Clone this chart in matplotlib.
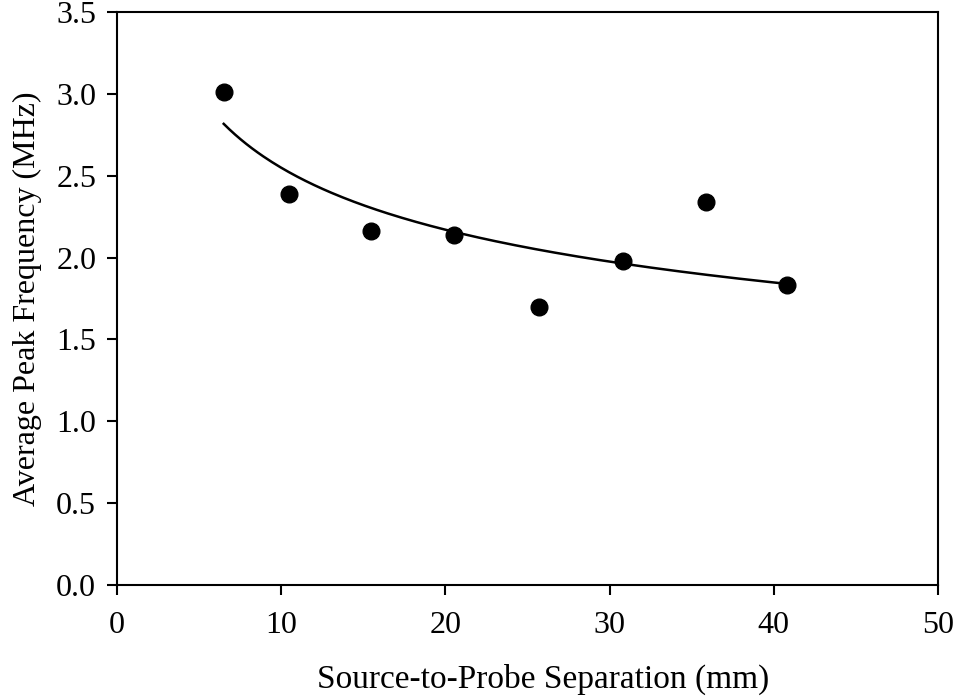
import matplotlib.pyplot as plt
import numpy as np

plt.rcParams["font.family"] = ["Liberation Serif", "DejaVu Serif"]

# measured points
separation_mm = [6.5, 10.5, 15.5, 20.5, 25.7, 30.8, 35.9, 40.8]
peak_freq_mhz = [3.01, 2.39, 2.16, 2.14, 1.70, 1.98, 2.34, 1.83]

# power-law trendline y = a * x^b
fit_a = 4.35
fit_b = -0.232

fig = plt.figure(figsize=(9.59, 6.96), dpi=100)
ax = fig.add_axes([0.122, 0.1595, 0.856, 0.823])

xs = np.linspace(min(separation_mm), max(separation_mm), 200)
ax.plot(xs, fit_a * xs ** fit_b, color="black", linewidth=1.8)
ax.plot(separation_mm, peak_freq_mhz, "o", color="black", markersize=12)

ax.set_xlim(0, 50)
ax.set_ylim(0, 3.5)
ax.set_xticks([0, 10, 20, 30, 40, 50])
ax.set_yticks(np.arange(0, 3.51, 0.5))
ax.set_yticklabels([f"{v:.1f}" for v in np.arange(0, 3.51, 0.5)])
ax.tick_params(direction="out", length=7, width=1.5, labelsize=23, pad=8)
ax.tick_params(axis="x", pad=12)
for s in ax.spines.values():
    s.set_linewidth(1.5)

ax.set_xlabel("Source-to-Probe Separation (mm)", fontsize=24)
ax.xaxis.set_label_coords(0.519, -0.138)
ax.set_ylabel("Average Peak Frequency (MHz)", fontsize=23, labelpad=10)

fig.savefig("out.png", dpi=100)
plt.close(fig)
